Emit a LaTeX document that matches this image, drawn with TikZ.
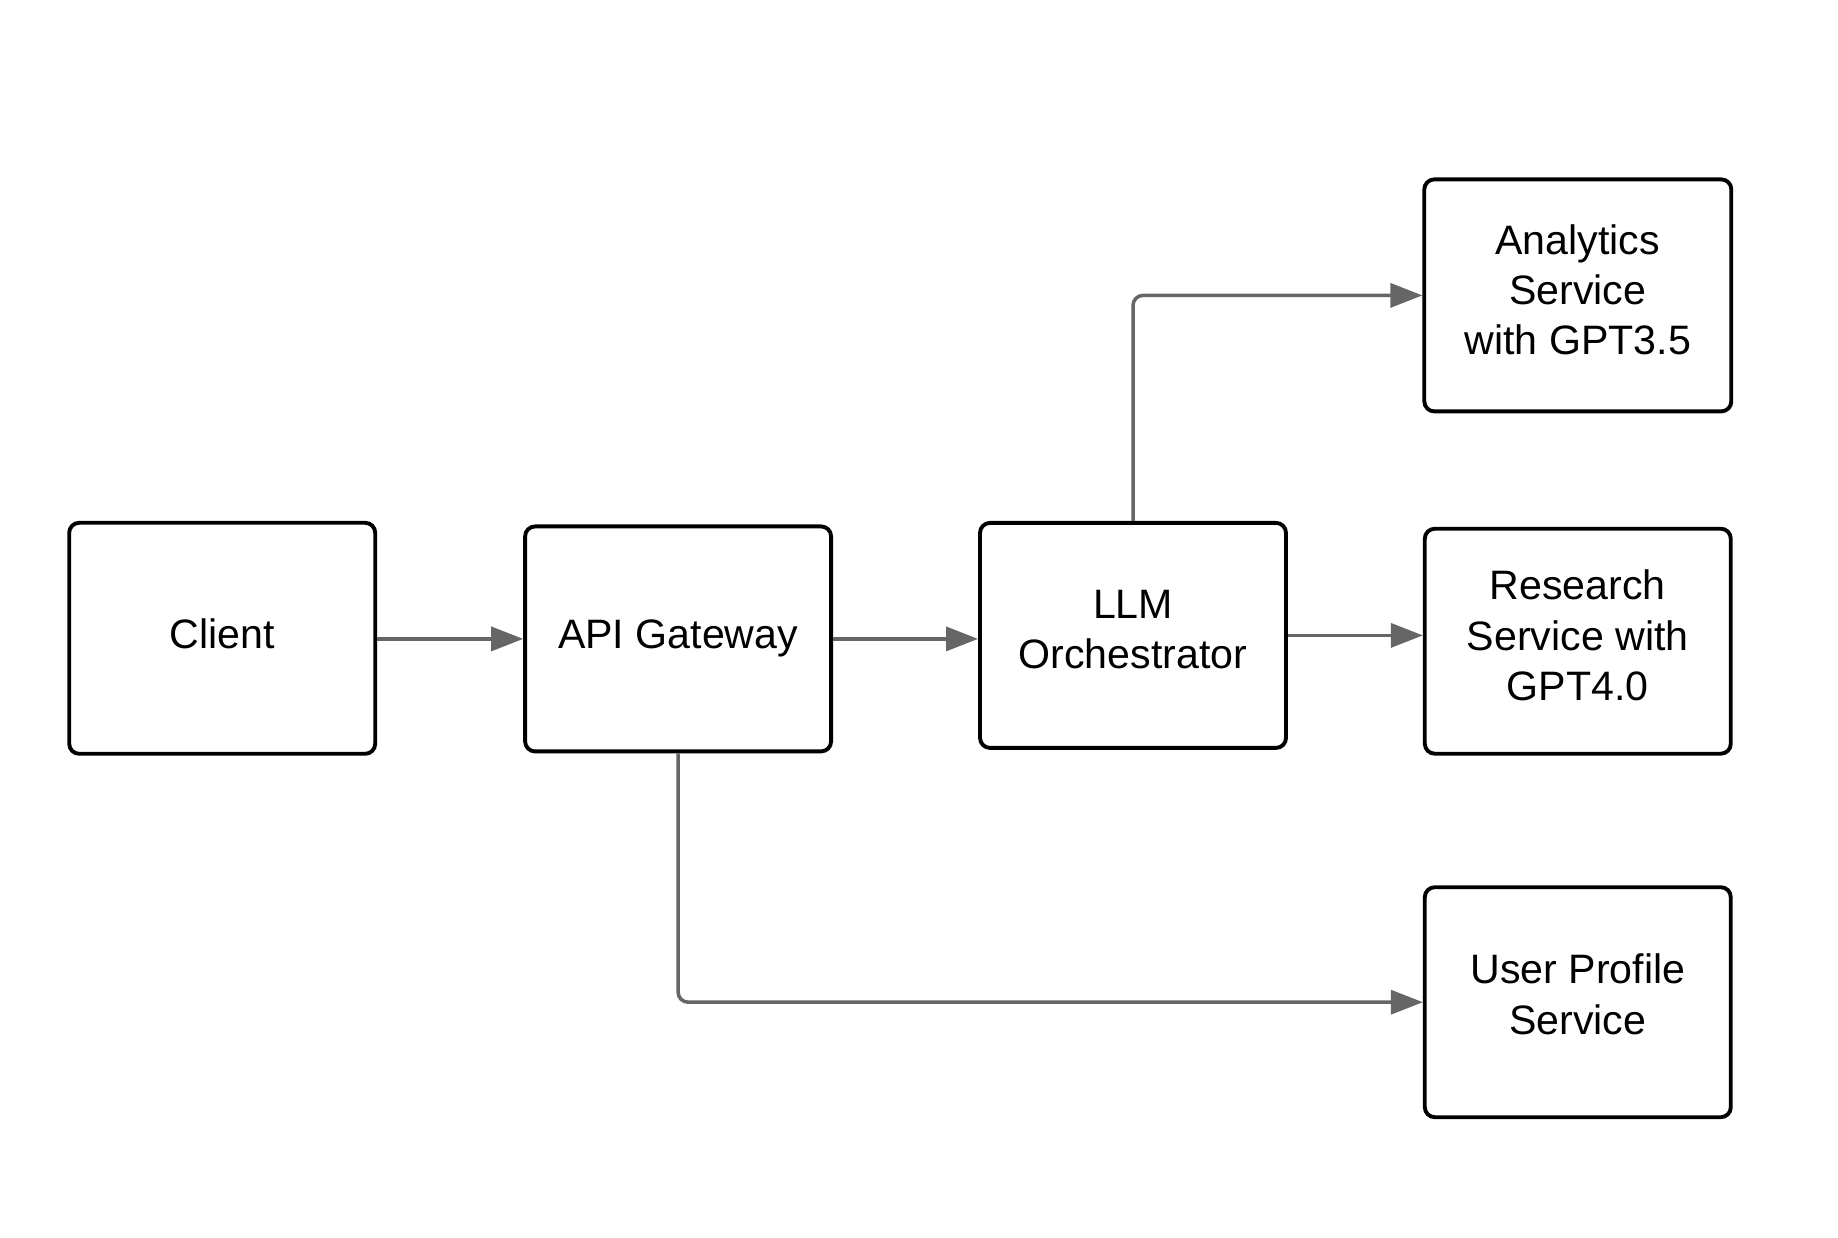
\documentclass[tikz,border=0pt]{standalone}
\usepackage{fontspec}
\setmainfont{Liberation Sans}
\usetikzlibrary{arrows.meta}

\tikzset{
  box/.style={draw=black, line width=1.1pt, rounded corners=0.1cm, align=center,
    inner sep=0pt, minimum width=3.06cm, minimum height=2.25cm,
    font=\fontsize{11.7}{14.3}\selectfont},
  raised/.style={text depth=#1},
  raised/.default=0.12cm,
  link/.style={color=black!60, line width=1pt,
    -{Triangle[length=0.32cm, width=0.24cm]}},
}

\begin{document}
\begin{tikzpicture}
	\useasboundingbox (0,0) rectangle (18.38,-12.38);
	
	% blocchi
	\node[box, raised=0.1cm, minimum height=2.31cm] (client) at (2.222,-6.383) {Client};
	\node[box] (gateway) at (6.781,-6.389) {API Gateway};
	\node[box, raised] (orch) at (11.33,-6.354) {LLM\\Orchestrator};
	
	\node[box, raised, minimum width=3.07cm, minimum height=2.32cm] (analytics) at (15.778,-2.954) {Analytics\\Service\\with GPT3.5};
	\node[box, raised] (research) at (15.778,-6.412) {Research\\Service with\\GPT4.0};
	\node[box, raised=0.16cm, minimum height=2.3cm] (profile) at (15.778,-10.022) {User Profile\\Service};
	
	% frecce
	\draw[link] (client.east |- gateway.west) -- (gateway.west);
	\draw[link] (gateway.east) -- (gateway.east -| orch.west);
	\draw[link] (orch.east) -- (orch.east -| research.west);
	\draw[link, rounded corners=0.1cm] (orch.north) |- (analytics.west);
	\draw[link, rounded corners=0.1cm] (gateway.south) |- (profile.west);
\end{tikzpicture}
\end{document}
